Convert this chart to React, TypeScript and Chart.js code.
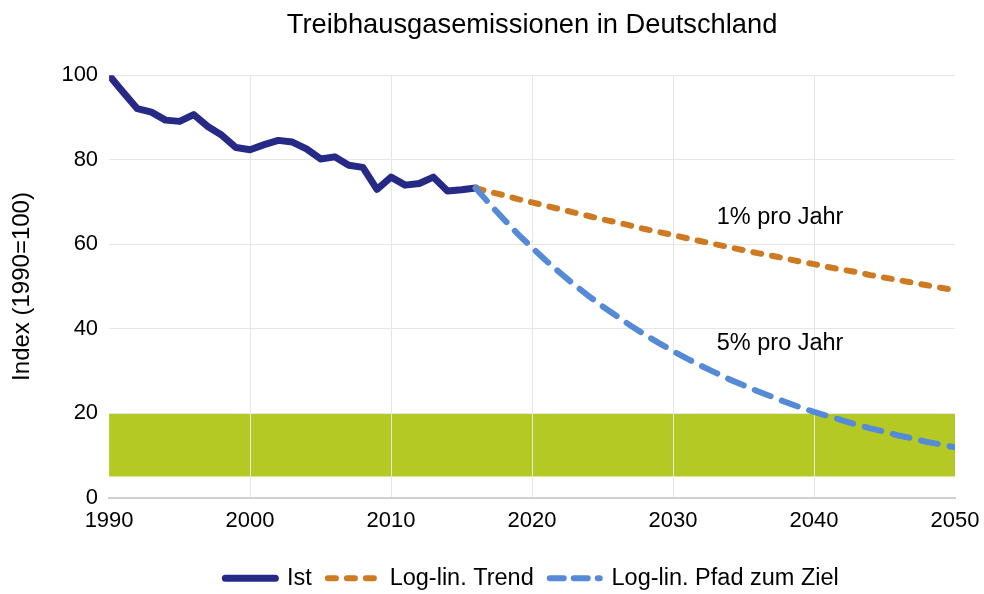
import React, { useEffect, useRef } from "react";
import { Chart, registerables } from "chart.js";

Chart.register(...registerables);

const chartTitle = "Treibhausgasemissionen in Deutschland";
const yAxisTitle = "Index (1990=100)";
const seriesLabels = ["Ist", "Log-lin. Trend", "Log-lin. Pfad zum Ziel"];

const istYears = [
  1990, 1991, 1992, 1993, 1994, 1995, 1996, 1997, 1998, 1999, 2000, 2001, 2002, 2003,
  2004, 2005, 2006, 2007, 2008, 2009, 2010, 2011, 2012, 2013, 2014, 2015, 2016,
];
const istValues = [
  100, 96.0, 92.1, 91.3, 89.4, 89.1, 90.7, 87.9, 85.8, 82.9, 82.4, 83.6, 84.6, 84.2,
  82.6, 80.2, 80.7, 78.7, 78.2, 73.0, 75.9, 74.0, 74.4, 75.9, 72.6, 72.9, 73.3,
];

const projYears = [
  2016, 2017, 2018, 2019, 2020, 2021, 2022, 2023, 2024, 2025, 2026, 2027, 2028, 2029,
  2030, 2031, 2032, 2033, 2034, 2035, 2036, 2037, 2038, 2039, 2040, 2041, 2042, 2043,
  2044, 2045, 2046, 2047, 2048, 2049, 2050,
];
const trendValues = [
  73.3, 72.4, 71.6, 70.7, 69.9, 69.1, 68.3, 67.5, 66.7, 65.9, 65.2, 64.4, 63.6, 62.9,
  62.2, 61.4, 60.7, 60.0, 59.3, 58.6, 57.9, 57.3, 56.6, 55.9, 55.3, 54.6, 54.0, 53.4,
  52.7, 52.1, 51.5, 50.9, 50.3, 49.7, 49.1,
];
const pfadValues = [
  73.3, 69.5, 65.9, 62.4, 59.2, 56.1, 53.2, 50.4, 47.8, 45.3, 43.0, 40.7, 38.6, 36.6,
  34.7, 32.9, 31.2, 29.6, 28.0, 26.6, 25.2, 23.9, 22.6, 21.4, 20.3, 19.3, 18.3, 17.3,
  16.4, 15.6, 14.7, 14.0, 13.2, 12.6, 11.9,
];

const xMin = 1990;
const xMax = 2050;
const xStep = 10;
const yMin = 0;
const yMax = 100;
const yStep = 20;

const targetBand = [5, 20];
const annotations = [
  { text: "1% pro Jahr", x: 2033.1, y: 66.4 },
  { text: "5% pro Jahr", x: 2033.1, y: 36.5 },
];

const FONT = "'Liberation Sans', Arial, sans-serif";
const colors = ["#262a86", "#cd7a22", "#558ad6"];
const bandColor = "#b4c924";
const gridColor = "#e6e6e6";

const lineWidths = [7, 6, 6];
const lineDashes: number[][] = [[], [8, 11], [17, 12]];
const legendDashes: number[][] = [[], [8, 11], [14, 10]];

const bandAndLabels = {
  id: "bandAndLabels",
  beforeDraw(chart: any) {
    const { ctx, chartArea, scales } = chart;
    const yTop = scales.y.getPixelForValue(targetBand[1]);
    const yBot = scales.y.getPixelForValue(targetBand[0]);
    ctx.save();
    ctx.fillStyle = bandColor;
    ctx.fillRect(chartArea.left, yTop, chartArea.right - chartArea.left, yBot - yTop);
    ctx.restore();
  },
  afterDatasetsDraw(chart: any) {
    const { ctx, scales } = chart;
    ctx.save();
    ctx.font = `23.5px ${FONT}`;
    ctx.fillStyle = "#000";
    ctx.textAlign = "left";
    ctx.textBaseline = "middle";
    annotations.forEach((a) => {
      ctx.fillText(a.text, scales.x.getPixelForValue(a.x), scales.y.getPixelForValue(a.y));
    });
    ctx.restore();
  },
};

export default function App() {
  const canvasRef = useRef<HTMLCanvasElement | null>(null);

  useEffect(() => {
    document.body.style.margin = "0";
    const canvas = canvasRef.current;
    if (!canvas) return;

    const toPoints = (xs: number[], ys: number[]) => xs.map((x, i) => ({ x, y: ys[i] }));

    const chart = new Chart(canvas, {
      type: "line",
      data: {
        datasets: [
          {
            label: seriesLabels[0],
            data: toPoints(istYears, istValues),
            borderColor: colors[0],
            backgroundColor: colors[0],
            borderWidth: lineWidths[0],
            borderDash: lineDashes[0],
            borderCapStyle: "round",
            borderJoinStyle: "round",
            pointRadius: 0,
            tension: 0,
            order: 2,
          },
          {
            label: seriesLabels[1],
            data: toPoints(projYears, trendValues),
            borderColor: colors[1],
            backgroundColor: colors[1],
            borderWidth: lineWidths[1],
            borderDash: lineDashes[1],
            borderCapStyle: "round",
            borderJoinStyle: "round",
            pointRadius: 0,
            tension: 0,
            order: 1,
          },
          {
            label: seriesLabels[2],
            data: toPoints(projYears, pfadValues),
            borderColor: colors[2],
            backgroundColor: colors[2],
            borderWidth: lineWidths[2],
            borderDash: lineDashes[2],
            borderCapStyle: "round",
            borderJoinStyle: "round",
            pointRadius: 0,
            tension: 0,
            order: 0,
          },
        ],
      },
      options: {
        responsive: false,
        animation: false,
        events: [],
        layout: { padding: { left: 0, right: 29, top: 0, bottom: -6 } },
        plugins: {
          tooltip: { enabled: false },
          title: {
            display: true,
            fullSize: false,
            text: chartTitle,
            color: "#000",
            font: { family: FONT, size: 27.3, weight: "normal" },
            padding: { top: 9, bottom: 33.6 },
          },
          legend: {
            display: true,
            fullSize: false,
            position: "bottom",
            labels: {
              usePointStyle: true,
              pointStyleWidth: 50,
              boxHeight: 23.5,
              padding: 16,
              color: "#000",
              font: { family: FONT, size: 23.5 },
              generateLabels: (ch: any) =>
                ch.data.datasets.map((ds: any, i: number) => ({
                  text: ds.label,
                  fillStyle: colors[i],
                  strokeStyle: colors[i],
                  lineWidth: lineWidths[i],
                  lineDash: legendDashes[i],
                  lineCap: "round",
                  pointStyle: "line",
                  hidden: false,
                  datasetIndex: i,
                  fontColor: "#000",
                })),
            },
          },
        },
        scales: {
          x: {
            type: "linear",
            min: xMin,
            max: xMax,
            afterFit: (s: any) => {
              s.height += 6.5;
              s.paddingRight = 0;
            },
            ticks: {
              stepSize: xStep,
              color: "#000",
              padding: 10,
              font: { family: FONT, size: 22 },
              maxRotation: 0,
              callback: (v: any) => String(v),
            },
            grid: {
              drawTicks: false,
              lineWidth: 1,
              color: (c: any) =>
                c.tick && (c.tick.value === xMin || c.tick.value === xMax) ? "rgba(0,0,0,0)" : gridColor,
            },
            border: { display: true, color: "#cfcfcf", width: 2 },
          },
          y: {
            min: yMin,
            max: yMax,
            ticks: {
              stepSize: yStep,
              color: "#000",
              padding: 11,
              font: { family: FONT, size: 22 },
            },
            grid: {
              drawTicks: false,
              lineWidth: 1,
              color: (c: any) => (c.tick && c.tick.value === yMin ? "rgba(0,0,0,0)" : gridColor),
            },
            border: { display: false },
            title: {
              display: true,
              text: yAxisTitle,
              color: "#000",
              font: { family: FONT, size: 24 },
              padding: { top: 7.6, bottom: 14 },
            },
          },
        },
      },
      plugins: [bandAndLabels],
    });

    return () => chart.destroy();
  }, []);

  return (
    <div style={{ width: 984, height: 594 }}>
      <canvas ref={canvasRef} width={984} height={594} style={{ display: "block" }} />
    </div>
  );
}
